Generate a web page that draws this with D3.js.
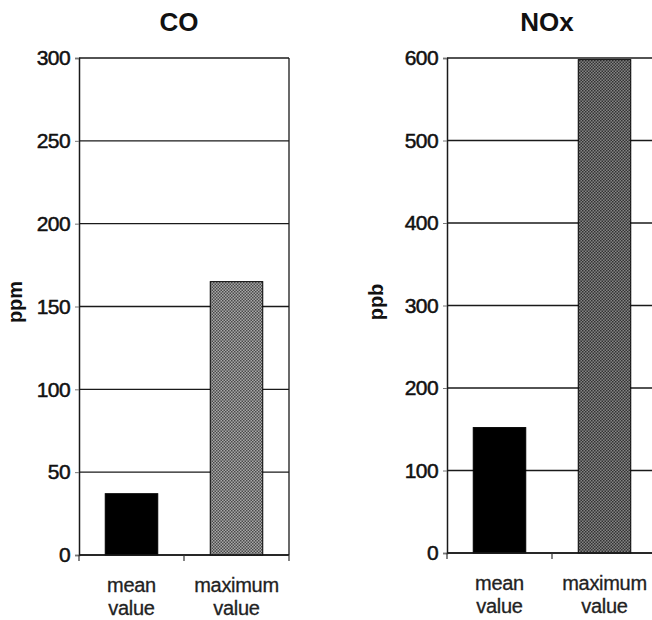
<!DOCTYPE html>
<html>
<head>
<meta charset="utf-8">
<script src="https://cdn.jsdelivr.net/npm/d3@7"></script>
<style>
    body { margin: 0; background: #fff; }
    svg { display: block; font-family: "Liberation Sans", Arial, sans-serif; }
    .tick text { font-size: 21px; fill: #111; stroke: #111; stroke-width: 0.5px; letter-spacing: -0.6px; }
    .title { font-size: 26px; font-weight: bold; fill: #111; }
    .unit { font-size: 20px; font-weight: bold; fill: #111; }
    .catLabel { font-size: 20px; fill: #222; stroke: #222; stroke-width: 0.3px; letter-spacing: -0.3px; }
</style>
</head>
<body>
<script>
//execute script when window is loaded
window.onload = function(){

    //SVG dimension variables
    var w = 652, h = 620;

    //chart data
    var categories = ["mean value", "maximum value"];
    var coValues = [37, 165];
    var noxValues = [152, 598];
    var coTicks = [0, 50, 100, 150, 200, 250, 300];
    var noxTicks = [0, 100, 200, 300, 400, 500, 600];

    //create the SVG container
    var container = d3.select("body")
        .append("svg")
        .attr("width", w)
        .attr("height", h);

    //stipple patterns for the maximum bars
    var defs = container.append("defs");
    function stipple(id, dark, light){
        var p = defs.append("pattern")
            .attr("id", id)
            .attr("width", 3)
            .attr("height", 3)
            .attr("patternUnits", "userSpaceOnUse");
        p.append("rect").attr("width", 3).attr("height", 3).style("fill", light);
        p.append("rect").attr("width", 1.5).attr("height", 1.5).style("fill", dark);
        p.append("rect").attr("x", 1.5).attr("y", 1.5).attr("width", 1.5).attr("height", 1.5).style("fill", dark);
    }
    stipple("dotsCO", "#4a4a4a", "#a8a8a8");
    stipple("dotsNOx", "#333", "#848484");

    //draw one panel
    function panel(opt){
        var x = d3.scaleBand()
            .domain(categories)
            .range([opt.left, opt.right])
            .paddingInner(0.5)
            .paddingOuter(0.25);

        var y = d3.scaleLinear()
            .domain([0, opt.ticks[opt.ticks.length - 1]])
            .range([opt.bottom, opt.top]);

        var g = container.append("g");

        //horizontal grid lines
        g.selectAll(".grid")
            .data(opt.ticks)
            .enter()
            .append("line")
            .attr("x1", opt.left)
            .attr("x2", opt.right)
            .attr("y1", function(d){ return y(d); })
            .attr("y2", function(d){ return y(d); })
            .style("stroke", "#1a1a1a")
            .style("stroke-width", 1.3);

        //right border
        g.append("line")
            .attr("x1", opt.right).attr("x2", opt.right)
            .attr("y1", opt.top).attr("y2", opt.bottom)
            .style("stroke", "#1a1a1a")
            .style("stroke-width", 1.3);

        //bars
        g.selectAll(".bar")
            .data(opt.values)
            .enter()
            .append("rect")
            .attr("x", function(d, i){ return x(categories[i]); })
            .attr("width", x.bandwidth())
            .attr("y", function(d){ return y(d); })
            .attr("height", function(d){ return opt.bottom - y(d); })
            .style("fill", function(d, i){ return i === 0 ? "#000" : "url(#" + opt.pattern + ")"; })
            .style("stroke", "#000")
            .style("stroke-width", 1);

        //y axis
        var yAxis = d3.axisLeft(y)
            .tickValues(opt.ticks)
            .tickSize(4)
            .tickPadding(5);
        var axis = g.append("g")
            .attr("transform", "translate(" + opt.left + ",0)")
            .call(yAxis);
        axis.select(".domain").style("stroke", "#1a1a1a").style("stroke-width", 1.5);
        axis.selectAll(".tick line").style("stroke", "#777").style("stroke-width", 1);

        //bottom axis line with category separator ticks
        g.append("line")
            .attr("x1", opt.left).attr("x2", opt.right)
            .attr("y1", opt.bottom).attr("y2", opt.bottom)
            .style("stroke", "#1a1a1a")
            .style("stroke-width", 1.5);
        var step = x.step();
        var seps = [opt.left, x(categories[1]) - step * 0.25, opt.right];
        g.selectAll(".sep")
            .data(seps)
            .enter()
            .append("line")
            .attr("x1", function(d){ return d; })
            .attr("x2", function(d){ return d; })
            .attr("y1", opt.bottom)
            .attr("y2", opt.bottom + 6)
            .style("stroke", "#333")
            .style("stroke-width", 1.2);

        //category labels
        var labels = g.selectAll(".catLabel")
            .data(categories)
            .enter()
            .append("text")
            .attr("class", "catLabel")
            .attr("text-anchor", "middle")
            .attr("y", opt.bottom + 37);
        labels.each(function(d){
            var t = d3.select(this);
            var cx = x(d) + x.bandwidth() / 2;
            d.split(" ").forEach(function(word, k){
                t.append("tspan")
                    .attr("x", cx)
                    .attr("dy", k === 0 ? 0 : 23)
                    .text(word);
            });
        });

        //title
        g.append("text")
            .attr("class", "title")
            .attr("text-anchor", "middle")
            .attr("x", (opt.left + opt.right) / 2 - 5)
            .attr("y", 31)
            .text(opt.title);

        //unit label
        g.append("text")
            .attr("class", "unit")
            .attr("text-anchor", "middle")
            .attr("transform", "translate(" + (opt.unitX) + "," + 302 + ") rotate(-90)")
            .text(opt.unit);
    }

    panel({
        title: "CO", unit: "ppm", unitX: 22,
        values: coValues, ticks: coTicks, pattern: "dotsCO",
        left: 79, right: 289, top: 58, bottom: 555
    });

    panel({
        title: "NOx", unit: "ppb", unitX: 383,
        values: noxValues, ticks: noxTicks, pattern: "dotsNOx",
        left: 447, right: 657, top: 58, bottom: 553
    });

};
</script>
</body>
</html>
